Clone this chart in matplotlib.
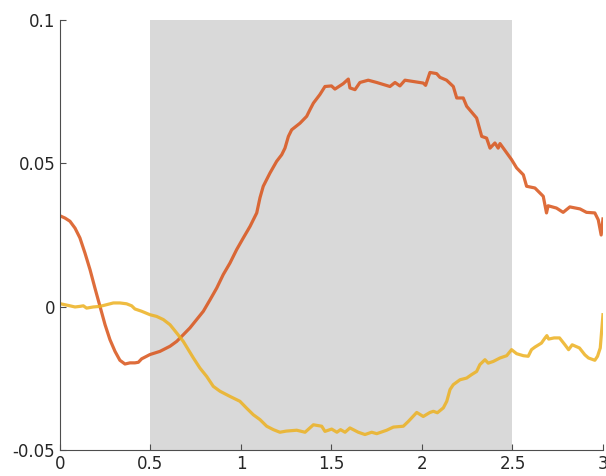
import matplotlib
matplotlib.use("Agg")
import matplotlib.pyplot as plt

red_x = [0.0, 0.028, 0.055, 0.083, 0.11, 0.138, 0.166, 0.193, 0.221, 0.249, 0.276, 0.304, 0.331, 0.359,
         0.387, 0.414, 0.433, 0.451, 0.497, 0.552, 0.608, 0.645, 0.681, 0.718, 0.755, 0.792, 0.829, 0.866,
         0.902, 0.939, 0.976, 1.013, 1.05, 1.087, 1.105, 1.123, 1.16, 1.197, 1.225, 1.243, 1.262, 1.28,
         1.326, 1.363, 1.381, 1.40, 1.436, 1.464, 1.50, 1.519, 1.565, 1.593, 1.602, 1.63, 1.657, 1.703,
         1.75, 1.823, 1.851, 1.878, 1.906, 2.007, 2.02, 2.044, 2.081, 2.099, 2.136, 2.173, 2.192, 2.228,
         2.247, 2.302, 2.33, 2.357, 2.376, 2.403, 2.421, 2.431, 2.495, 2.523, 2.56, 2.578, 2.624, 2.67,
         2.688, 2.697, 2.743, 2.78, 2.817, 2.873, 2.909, 2.955, 2.974, 2.99, 3.0]
red_y = [0.0317, 0.0309, 0.0298, 0.0274, 0.0240, 0.0187, 0.0129, 0.0065, 0.0001, -0.0063, -0.0115, -0.0156,
         -0.0187, -0.0200, -0.0196, -0.0196, -0.0194, -0.0182, -0.0167, -0.0156, -0.0138, -0.0121, -0.0098,
         -0.0074, -0.0045, -0.0016, 0.0024, 0.0065, 0.0112, 0.0152, 0.0199, 0.024, 0.028, 0.0327, 0.038,
         0.042, 0.0466, 0.0507, 0.053, 0.0553, 0.0594, 0.0617, 0.064, 0.0664, 0.0687, 0.071, 0.074, 0.0768,
         0.077, 0.0759, 0.0778, 0.0794, 0.0763, 0.0757, 0.0782, 0.079, 0.0782, 0.0768, 0.0782, 0.077, 0.079,
         0.078, 0.0772, 0.0817, 0.0813, 0.080, 0.079, 0.0768, 0.0728, 0.0728, 0.0699, 0.0658, 0.0594, 0.0588,
         0.0553, 0.0571, 0.0553, 0.0569, 0.0513, 0.0484, 0.046, 0.042, 0.0414, 0.0385, 0.0327, 0.0352,
         0.0344, 0.0329, 0.0348, 0.0341, 0.0329, 0.0327, 0.0303, 0.025, 0.0306]

yel_x = [0.0, 0.055, 0.083, 0.11, 0.129, 0.147, 0.184, 0.221, 0.258, 0.295, 0.331, 0.368, 0.396, 0.414,
         0.451, 0.497, 0.534, 0.571, 0.608, 0.645, 0.681, 0.709, 0.737, 0.773, 0.81, 0.847, 0.884, 0.939,
         0.994, 1.031, 1.068, 1.105, 1.142, 1.179, 1.215, 1.25, 1.308, 1.354, 1.40, 1.446, 1.464, 1.501,
         1.53, 1.55, 1.575, 1.602, 1.648, 1.685, 1.722, 1.75, 1.805, 1.842, 1.897, 1.925, 1.971, 2.007,
         2.044, 2.063, 2.085, 2.118, 2.137, 2.155, 2.173, 2.21, 2.247, 2.274, 2.302, 2.32, 2.348, 2.366,
         2.394, 2.431, 2.468, 2.495, 2.523, 2.56, 2.587, 2.605, 2.624, 2.66, 2.68, 2.69, 2.70, 2.73, 2.76,
         2.79, 2.81, 2.83, 2.87, 2.90, 2.92, 2.955, 2.97, 2.985, 3.0]
yel_y = [0.00105, 0.0003, -0.0001, 0.0001, 0.0003, -0.0005, -0.0001, 0.0001, 0.0007, 0.0013, 0.0013, 0.001,
         0.0003, -0.0008, -0.0016, -0.0028, -0.0034, -0.0045, -0.0063, -0.0092, -0.0121, -0.015, -0.0179,
         -0.0214, -0.0243, -0.0278, -0.0295, -0.0313, -0.033, -0.0354, -0.0377, -0.0394, -0.0417, -0.0429,
         -0.0438, -0.0434, -0.0431, -0.0438, -0.0412, -0.0417, -0.0435, -0.0427, -0.0438, -0.0429, -0.0438,
         -0.0423, -0.0438, -0.0446, -0.0438, -0.0443, -0.0431, -0.042, -0.0417, -0.040, -0.0369, -0.0383,
         -0.0369, -0.0365, -0.0370, -0.0353, -0.0330, -0.0289, -0.0272, -0.0255, -0.0249, -0.0237, -0.0226,
         -0.0202, -0.0185, -0.0197, -0.0191, -0.0179, -0.0171, -0.015, -0.0164, -0.0171, -0.0173, -0.015,
         -0.0141, -0.0127, -0.0109, -0.0101, -0.0113, -0.0109, -0.0109, -0.0133, -0.015, -0.0133, -0.0144,
         -0.0168, -0.0179, -0.0187, -0.0173, -0.0144, -0.0028]

x_ticks = [0, 0.5, 1, 1.5, 2, 2.5, 3]
x_labels = ["0", "0.5", "1", "1.5", "2", "2.5", "3"]
y_ticks = [-0.05, 0, 0.05, 0.1]
y_labels = ["-0.05", "0", "0.05", "0.1"]
span = (0.5, 2.5)

fig = plt.figure(figsize=(6.06, 4.76), dpi=100)
ax = fig.add_axes([0.099, 0.0546, 0.896, 0.9034])
ax.axvspan(span[0], span[1], color="#d9d9d9", lw=0, zorder=0)
ax.plot(red_x, red_y, color="#D95319", lw=2.3, alpha=0.85, zorder=2, solid_joinstyle="round")
ax.plot(yel_x, yel_y, color="#EDB120", lw=2.3, alpha=0.85, zorder=2, solid_joinstyle="round")
ax.set_xlim(0, 3)
ax.set_ylim(-0.05, 0.1)
ax.set_xticks(x_ticks)
ax.set_xticklabels(x_labels)
ax.set_yticks(y_ticks)
ax.set_yticklabels(y_labels)
for s in ["top", "right"]:
    ax.spines[s].set_visible(False)
for s in ["left", "bottom"]:
    ax.spines[s].set_color("#4d4d4d")
    ax.spines[s].set_linewidth(0.8)
ax.tick_params(direction="in", length=4, width=0.8, color="#4d4d4d", labelsize=12, labelcolor="#262626")
fig.savefig("out.png", dpi=100)
